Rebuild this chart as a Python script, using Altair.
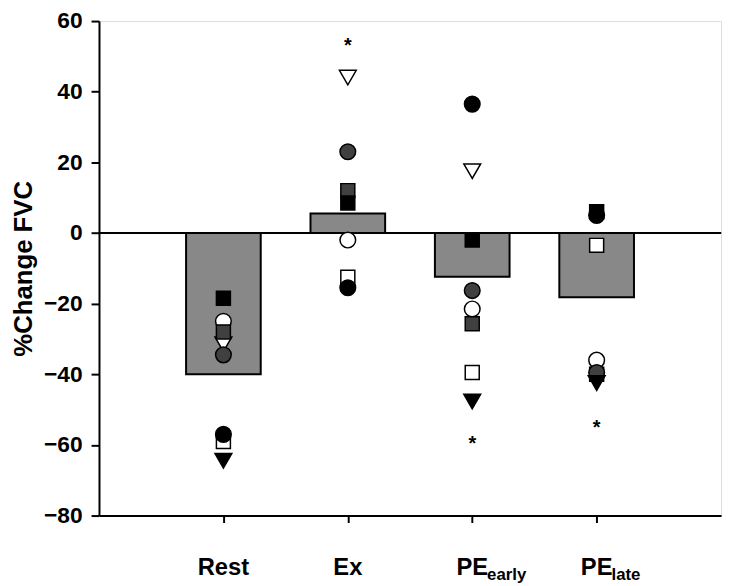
import altair as alt
import pandas as pd

# ---------------- data ----------------
conditions = ["Rest", "Ex", "PE_early", "PE_late"]
positions = [1, 2, 3, 4]
bar_means = [-40.0, 5.5, -12.4, -18.2]

label_main = ["Rest", "Ex", "PE", "PE"]
label_sub = ["", "", "early", "late"]

# individual subjects (None = not visible in the figure)
white_triangle = [-31.5, 44.0, 17.5, None]
white_square = [-59.0, -12.5, -39.5, -3.5]
white_circle = [-25.0, -2.0, -21.5, -36.0]
gray_square = [-28.0, 12.0, -25.7, -40.0]
gray_circle = [-34.5, 23.0, -16.3, -39.5]
black_square = [-18.5, 8.5, -2.0, 6.0]
black_circle = [-57.0, -15.5, 36.5, 5.0]
black_triangle = [-64.5, None, -47.7, -42.5]

asterisk_values = [None, 54.0, -58.5, -54.0]

y_ticks = [-80, -60, -40, -20, 0, 20, 40, 60]

# ---------------- styles ----------------
series = [
    ("white_triangle", white_triangle, "triangle-down", "#ffffff"),
    ("white_square", white_square, "square", "#ffffff"),
    ("white_circle", white_circle, "circle", "#ffffff"),
    ("gray_square", gray_square, "square", "#404040"),
    ("gray_circle", gray_circle, "circle", "#404040"),
    ("black_square", black_square, "square", "#000000"),
    ("black_circle", black_circle, "circle", "#000000"),
    ("black_triangle", black_triangle, "triangle-down", "#000000"),
]
shape_size = {"circle": 250, "square": 200, "triangle-down": 290}

rows = []
order = 0
for name, vals, shp, fill in series:
    for p, v in zip(positions, vals):
        if v is None:
            continue
        rows.append({"pos": p, "value": v, "shape": shp, "fill": fill,
                     "size": shape_size[shp], "order": order})
        order += 1
points_df = pd.DataFrame(rows)

bars_df = pd.DataFrame({"cond": conditions, "pos": positions, "mean": bar_means})
ast_df = pd.DataFrame([{"pos": p, "value": v} for p, v in zip(positions, asterisk_values) if v is not None])
lab_df = pd.DataFrame({"pos": positions, "main": label_main, "sub": label_sub})

FONT = "Liberation Sans"

x_scale = alt.Scale(domain=[0, 5], nice=False, zero=False)
y_scale = alt.Scale(domain=[-80, 60], nice=False, zero=False)

x_axis = alt.Axis(values=positions, labelExpr="''", title=None, grid=False,
                  tickSize=7, tickWidth=2, tickColor="black",
                  domainColor="black", domainWidth=2)
y_axis = alt.Axis(values=y_ticks, grid=False, title="%Change FVC",
                  tickSize=8, tickWidth=2, tickColor="black",
                  domainColor="black", domainWidth=2,
                  labelFont=FONT, labelFontWeight="bold", labelFontSize=23,
                  labelColor="black", labelPadding=9,
                  titleFont=FONT, titleFontWeight="bold", titleFontSize=26,
                  titleColor="black", titleAngle=270, titleX=-76, titleY=250,
                  titleAlign="center", titleBaseline="middle")

bars = alt.Chart(bars_df).mark_bar(fill="#888888", stroke="black", strokeWidth=2).transform_calculate(
    x1="datum.pos - 0.3", x2="datum.pos + 0.3"
).encode(
    x=alt.X("x1:Q", scale=x_scale, axis=x_axis),
    x2="x2:Q",
    y=alt.Y("mean:Q", scale=y_scale, axis=y_axis),
    y2=alt.datum(0),
)

zero = alt.Chart(bars_df).mark_rule(color="black", strokeWidth=2).encode(
    y=alt.datum(0, scale=y_scale)
)

pts = alt.Chart(points_df).mark_point(filled=True, stroke="black", strokeWidth=1.5, opacity=1).encode(
    x=alt.X("pos:Q", scale=x_scale, axis=x_axis),
    y=alt.Y("value:Q", scale=y_scale, axis=y_axis),
    shape=alt.Shape("shape:N", scale=None),
    fill=alt.Fill("fill:N", scale=None),
    size=alt.Size("size:Q", scale=None),
    order=alt.Order("order:Q"),
)

ast = alt.Chart(ast_df).mark_text(text="*", font=FONT, fontWeight="bold", fontSize=20,
                                  color="black", baseline="middle", dy=4).encode(
    x=alt.X("pos:Q", scale=x_scale, axis=x_axis),
    y=alt.Y("value:Q", scale=y_scale, axis=y_axis),
)

lab_main = alt.Chart(lab_df).mark_text(font=FONT, fontWeight="bold", fontSize=24,
                                       color="black", align="center", baseline="alphabetic").encode(
    x=alt.X("pos:Q", scale=x_scale, axis=x_axis),
    y=alt.value(560),
    text="main:N",
)

lab_sub = alt.Chart(lab_df).mark_text(font=FONT, fontWeight="bold", fontSize=17,
                                      color="black", align="left", baseline="alphabetic", dx=15).encode(
    x=alt.X("pos:Q", scale=x_scale, axis=x_axis),
    y=alt.value(565),
    text="sub:N",
)

chart = alt.layer(bars, zero, pts, ast, lab_main, lab_sub).properties(
    width=629, height=500,
    autosize=alt.AutoSizeParams(type="none"),
    padding={"left": 92, "top": 10, "right": 6, "bottom": 68},
).configure_view(stroke=None).configure(background="white")

chart.save("out.html", embed_options={"renderer": "svg", "actions": False})
